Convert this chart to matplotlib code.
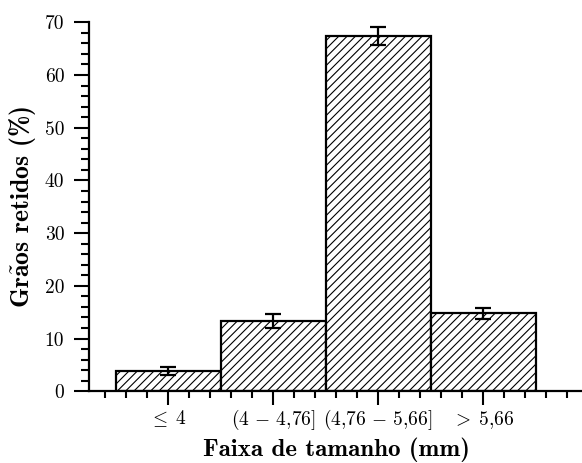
import matplotlib
matplotlib.use("Agg")
import matplotlib.pyplot as plt
from matplotlib.ticker import MultipleLocator

plt.rcParams['font.family'] = 'serif'
plt.rcParams['font.serif'] = ['cmr10']
plt.rcParams['mathtext.fontset'] = 'cm'
plt.rcParams['axes.unicode_minus'] = False
plt.rcParams['hatch.linewidth'] = 0.8

categories = [r'$\leq\; 4$', r'$(4\,-\,4{,}76]$', r'$(4{,}76\,-\,5{,}66]$', r'$>\; 5{,}66$']
values = [3.85, 13.4, 67.4, 14.8]
errors = [0.85, 1.33, 1.76, 1.0]

fig = plt.figure(figsize=(5.82, 4.63), dpi=100)
ax = fig.add_axes([0.1534, 0.1549, 0.848, 0.797])

x = list(range(len(categories)))
ax.bar(x, values, width=1.0, color='white', edgecolor='black', linewidth=1.6,
       hatch='////', yerr=errors,
       error_kw=dict(ecolor='black', elinewidth=1.6, capsize=5.5, capthick=1.6))

ax.set_xlim(-0.75, 3.95)
ax.set_ylim(0, 70)
ax.set_xticks(x)
ax.set_xticklabels(categories, fontsize=14, va='baseline')
ax.xaxis.set_minor_locator(MultipleLocator(0.2))
ax.yaxis.set_major_locator(MultipleLocator(10))
ax.yaxis.set_minor_locator(MultipleLocator(2))
ax.tick_params(axis='y', which='major', length=11, width=1.5, labelsize=14, direction='out', pad=7)
ax.tick_params(axis='y', which='minor', length=6, width=1.5, direction='out')
ax.tick_params(axis='x', which='major', length=10, width=1.5, labelsize=14, direction='out', pad=14)
ax.tick_params(axis='x', which='minor', length=5, width=1.5, direction='out')

for s in ['top', 'right']:
    ax.spines[s].set_visible(False)
for s in ['left', 'bottom']:
    ax.spines[s].set_linewidth(1.6)

ax.set_ylabel(r'Gr$\tilde{\mathbf{a}}$os retidos (%)', fontsize=18.5, family='cmb10',
              va='center')
ax.yaxis.set_label_coords(-0.136, 0.5)
ax.set_xlabel('Faixa de tamanho (mm)', fontsize=18, family='cmb10', va='baseline')
ax.xaxis.set_label_coords(0.5, -0.176)

fig.savefig('out.png', dpi=100)
